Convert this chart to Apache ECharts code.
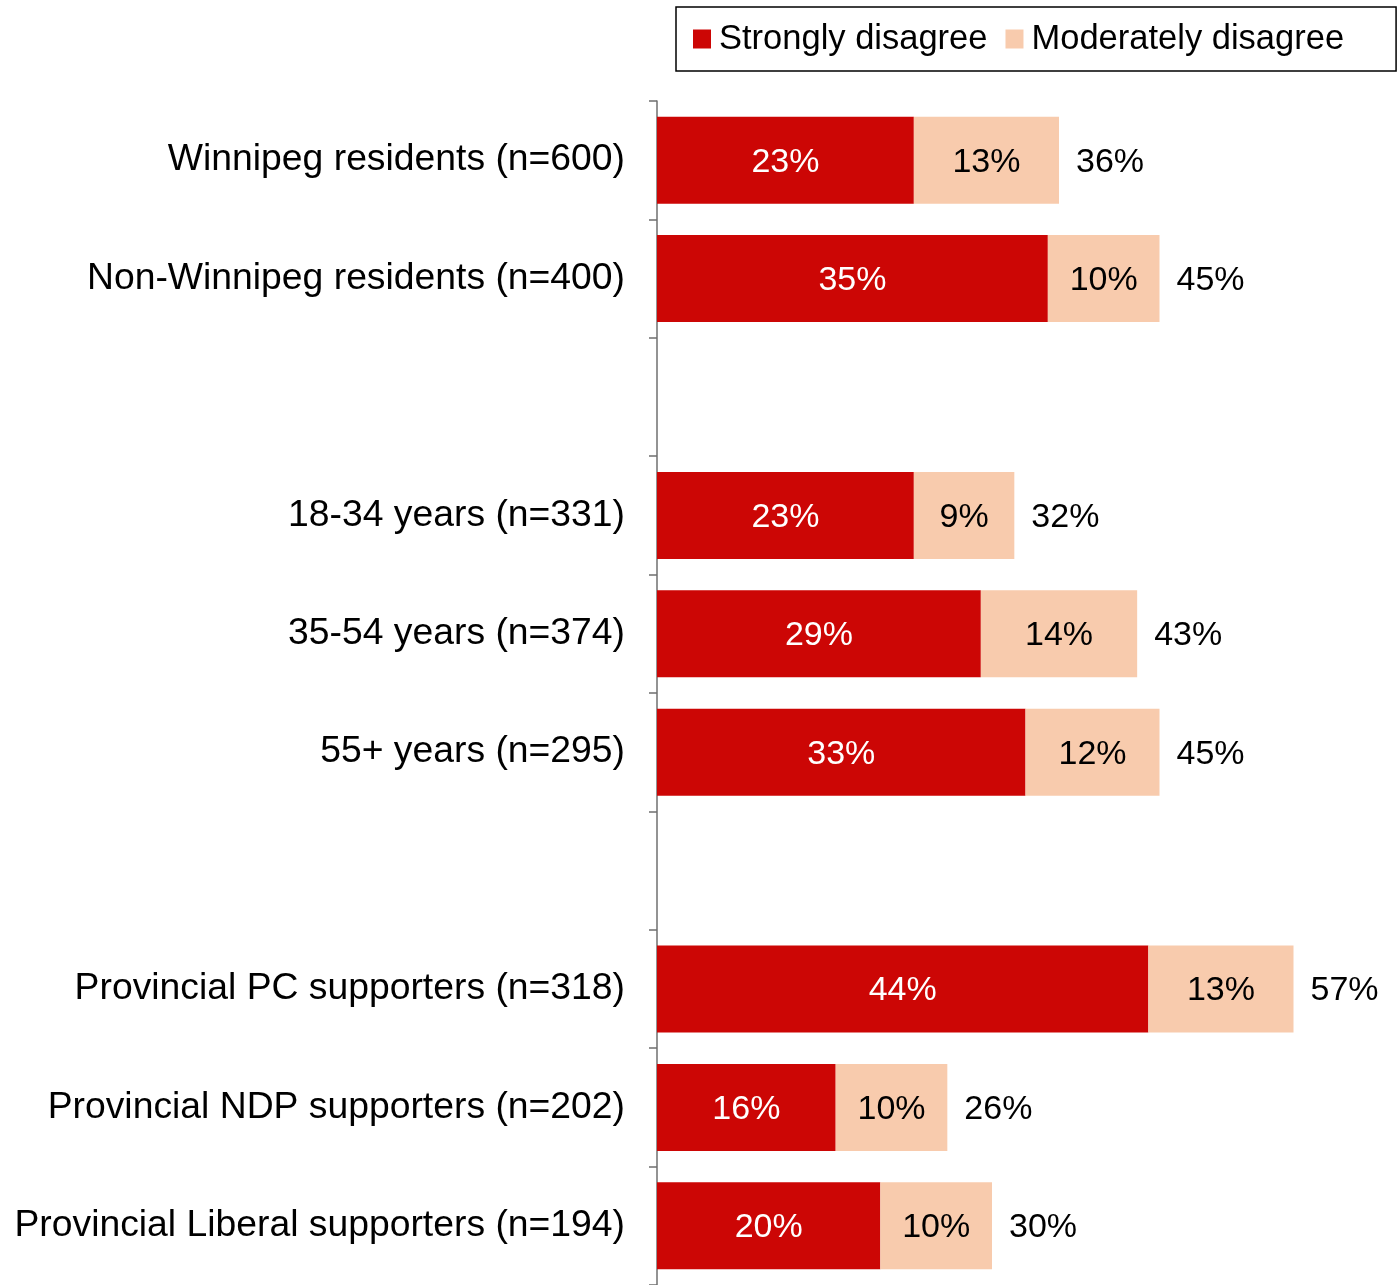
<!DOCTYPE html>
<html lang="en">
<head>
<meta charset="utf-8"/>
<title>Disagree by group</title>
<script src="https://cdn.jsdelivr.net/npm/echarts@6/dist/echarts.min.js"></script>
<style>
	html,body{margin:0;padding:0;background:#fff;}
</style>
</head>
	<body>
		<div id="Echarts" style="width: 1397px;height: 1285px;"></div>
	</body>
	<script>
		// blank entries are the gaps between groups
		var categories = ['Winnipeg residents (n=600)','Non-Winnipeg residents (n=400)','',
			'18-34 years (n=331)','35-54 years (n=374)','55+ years (n=295)','',
			'Provincial PC supporters (n=318)','Provincial NDP supporters (n=202)','Provincial Liberal supporters (n=194)'];
		var strongly = [23,35,'-',23,29,33,'-',44,16,20];
		var moderately = [13,10,'-',9,14,12,'-',13,10,10];
		var totals = [36,45,'-',32,43,45,'-',57,26,30];

		var font = '"Liberation Sans", Arial, sans-serif';
		var myChart = echarts.init(document.getElementById('Echarts'));
		myChart.setOption({
			animation:false,
			legend: {
				data:['Strongly disagree','Moderately disagree'],
				left:676,
				top:7,
				padding:[14,52,14,17],
				borderColor:'#000',
				borderWidth:1.5,
				itemWidth:18,
				itemHeight:19,
				itemGap:18,
				icon:'rect',
				textStyle:{fontFamily:font,fontSize:34.5,lineHeight:36,color:'#000',padding:[0,0,0,3]}
			},
			grid: {
				left:657,
				top:101,
				width:737,
				height:1184
			},
			xAxis: {
				type:'value',
				min:0,
				max:66,
				show:false
			},
			yAxis: {
				type:'category',
				inverse:true,
				data:categories,
				axisLine:{show:true,lineStyle:{color:'#6f6f6f',width:1.5}},
				axisTick:{show:true,inside:false,length:8,lineStyle:{color:'#6f6f6f',width:1.5}},
				axisLabel:{margin:32,padding:[6,0,0,0],fontFamily:font,fontSize:37.3,color:'#000'}
			},
			series: [
				{
					name:'Strongly disagree',
					type:'bar',
					stack:'total',
					barWidth:87,
					itemStyle:{color:'#CC0605'},
					label:{show:true,position:'inside',offset:[0,2],formatter:'{c}%',fontFamily:font,fontSize:34,color:'#fff'},
					data:strongly
				},
				{
					name:'Moderately disagree',
					type:'bar',
					stack:'total',
					barWidth:87,
					itemStyle:{color:'#F8CBAD'},
					label:{show:true,position:'inside',offset:[0,2],formatter:'{c}%',fontFamily:font,fontSize:34,color:'#000'},
					data:moderately
				},
				{
					name:'Total',
					type:'bar',
					stack:'total',
					barWidth:87,
					itemStyle:{color:'transparent'},
					label:{show:true,position:'right',distance:17,offset:[0,2],fontFamily:font,fontSize:34,color:'#000',
						formatter:function(p){ return totals[p.dataIndex] + '%'; }},
					data:totals.map(function(t){ return t === '-' ? '-' : 0; })
				}
			]
		});
	</script>
</html>
